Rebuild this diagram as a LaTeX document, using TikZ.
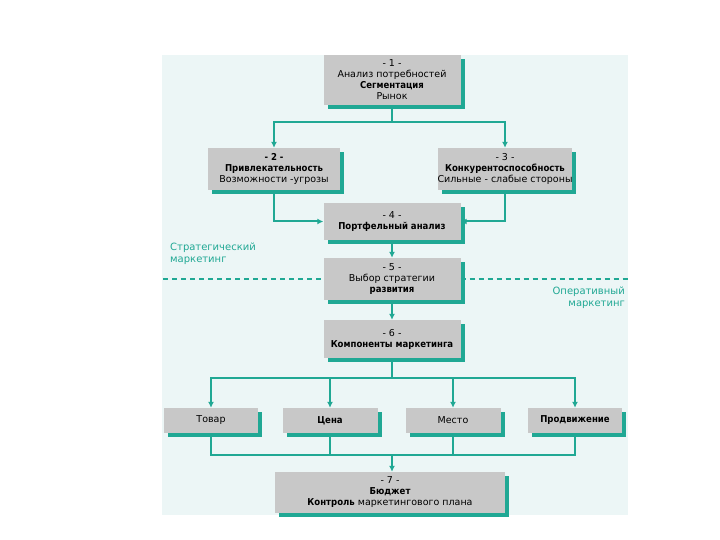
\documentclass[tikz,border=0pt]{standalone}
\usepackage{fontspec}
\setmainfont[BoldFeatures={FakeStretch=0.9}]{DejaVu Sans}
\usetikzlibrary{shadows,arrows.meta}
\definecolor{mteal}{RGB}{32,168,148}
\definecolor{mgray}{RGB}{200,200,200}
\definecolor{mpanel}{RGB}{236,246,246}

\begin{document}
\begin{tikzpicture}[x=1pt,y=-1pt,
  blk/.style={fill=mgray, align=center, inner sep=0pt, font=\fontsize{9.5}{11}\selectfont,
    drop shadow={fill=mteal, opacity=1, shadow xshift=4pt, shadow yshift=-4pt}},
  link/.style={draw=mteal, line width=2pt},
  arr/.style={link, -{Latex[length=6pt,width=6pt]}},
  lab/.style={text=mteal, inner sep=0pt, font=\fontsize{10}{12}\selectfont}]
\useasboundingbox (0,0) rectangle (720,540);
\fill[mpanel] (162,55) rectangle (628,515);

% blocks
\node[blk, minimum width=137pt, minimum height=50pt] (seg) at (392,80)
  {- 1 -\\Анализ потребностей\\\textbf{Сегментация}\\Рынок};
\node[blk, minimum width=132pt, minimum height=42pt] (attr) at (274,169)
  {\textbf{- 2 -}\\\textbf{Привлекательность}\\Возможности -угрозы};
\node[blk, minimum width=134pt, minimum height=42pt] (comp) at (505,169)
  {- 3 -\\\textbf{Конкурентоспособность}\\Сильные - слабые стороны};
\node[blk, minimum width=137pt, minimum height=37pt] (port) at (392,221.5)
  {- 4 -\\\textbf{Портфельный анализ}};
\node[blk, minimum width=137pt, minimum height=42pt] (strat) at (392,279)
  {- 5 -\\Выбор стратегии\\\textbf{развития}};
\node[blk, minimum width=137pt, minimum height=38pt] (mix) at (392,339)
  {- 6 -\\\textbf{Компоненты маркетинга}};
\node[blk, minimum width=94pt, minimum height=25pt] (tovar) at (211,420.5) {Товар};
\node[blk, minimum width=95pt, minimum height=25pt] (price) at (330,420.5) {\textbf{Цена}};
\node[blk, minimum width=95pt, minimum height=25pt] (place) at (453,420.5) {Место};
\node[blk, minimum width=94pt, minimum height=25pt] (promo) at (575,420.5) {\textbf{Продвижение}};
\node[blk, minimum width=230pt, minimum height=41pt] (budget) at (390,492.5)
  {- 7 -\\\textbf{Бюджет}\\\textbf{Контроль} маркетингового плана};

% labels
\node[lab, anchor=north west, align=left] (strlab) at (170,243) {Стратегический\\маркетинг};
\node[lab, anchor=north east, align=right] (oplab) at (625,287) {Оперативный\\маркетинг};

% connectors
\coordinate (j1) at (392,122);
\coordinate (j2) at (392,378);
\coordinate (j3) at (392,455);
\draw[link] (seg.south) -- (j1);
\draw[arr] (j1) -| (attr.north);
\draw[arr] (j1) -| (comp.north);
\draw[arr] (attr.south) |- (port.west);
\draw[arr] (comp.south) |- (port.east);
\draw[arr] (port.south) -- (strat.north);
\draw[arr] (strat.south) -- (mix.north);
\draw[link] (mix.south) -- (j2);
\foreach \n in {tovar,price,place,promo}
  \draw[arr] (j2) -| (\n.north);
\foreach \n in {tovar,price,place,promo}
  \draw[link] (\n.south) |- (j3);
\draw[arr] (j3) -- (j3 |- budget.north);

% border line
\coordinate (dl) at (163,279);
\coordinate (dr) at (628,279);
\draw[mteal, line width=1.5pt, dash pattern=on 5pt off 4pt] (dl) -- (strat.west);
\draw[mteal, line width=1.5pt, dash pattern=on 5pt off 4pt] (strat.east) -- (dr);
\end{tikzpicture}
\end{document}
